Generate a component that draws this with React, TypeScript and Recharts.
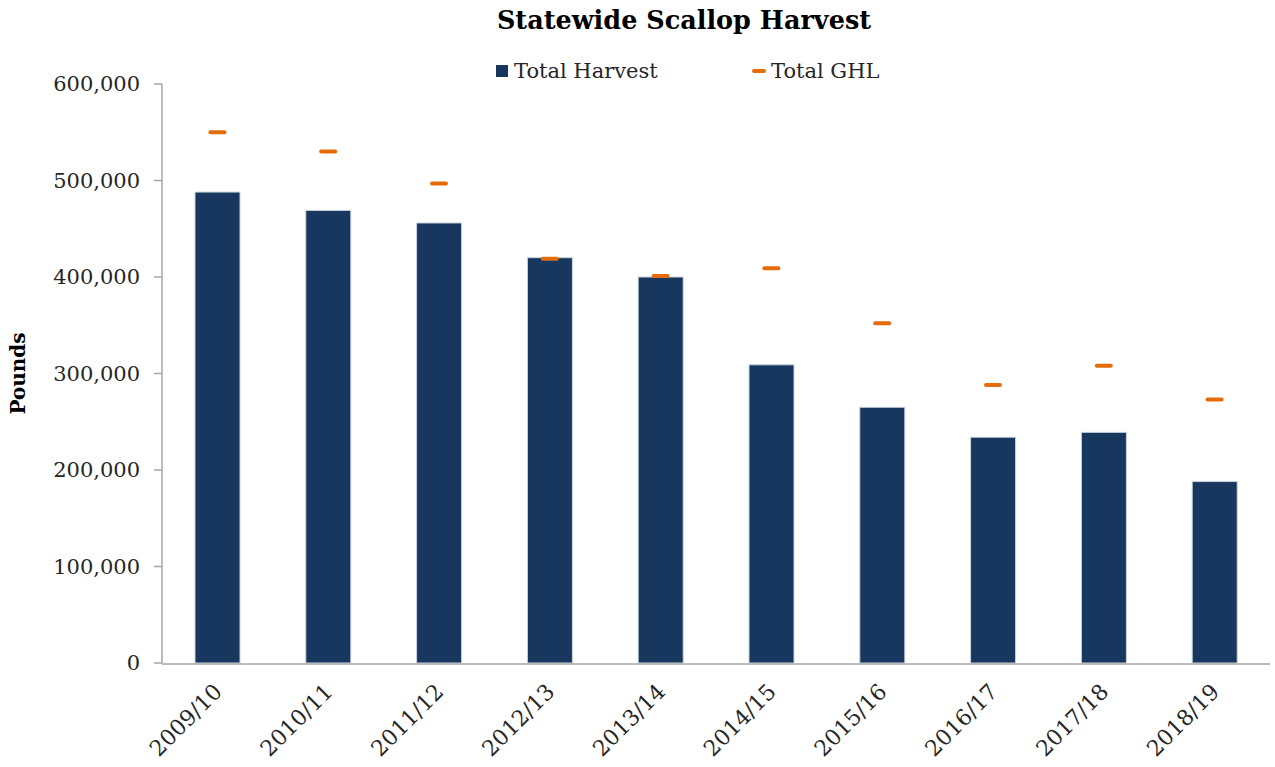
import { BarChart, Bar, Line, XAxis, YAxis } from 'recharts';

const seasons = ['2009/10', '2010/11', '2011/12', '2012/13', '2013/14', '2014/15', '2015/16', '2016/17', '2017/18', '2018/19'];
const totalHarvest = [488000, 469000, 456000, 420000, 400000, 309000, 265000, 234000, 239000, 188000];
const totalGhl = [550000, 530000, 497000, 419000, 401000, 409000, 352000, 288000, 308000, 273000];
const yTicks = [0, 100000, 200000, 300000, 400000, 500000, 600000];
const boundaryTicks = [0, 1, 2, 3, 4, 5, 6, 7, 8, 9, 10];

const FONT = '"DejaVu Serif", serif';
const NAVY = '#17375E';
const ORANGE = '#E46C0A';
const AXIS = '#a6a6a6';

const data = seasons.map((season, i) => ({
  season,
  harvest: totalHarvest[i],
  ghl: totalGhl[i],
}));

const formatNumber = (v: number): string => v.toLocaleString('en-US');

const GhlDash = (props: any) => {
  const { cx, cy } = props;
  if (cx == null || cy == null) return null;
  return <rect x={cx - 9} y={cy - 2} width={18} height={4} rx={2} fill={ORANGE} />;
};

const SeasonTick = (props: any) => {
  const { x, y, payload } = props;
  return (
    <text
      x={x + 6}
      y={y + 22}
      transform={`rotate(-45 ${x + 6} ${y + 22})`}
      textAnchor="end"
      fontFamily={FONT}
      fontSize={22}
      fill="#262626"
    >
      {payload.value}
    </text>
  );
};

export default function App() {
  return (
    <div style={{ position: 'absolute', left: 0, top: 0, width: 1275, height: 767, background: '#fff' }}>
      <div
        style={{
          position: 'absolute',
          left: 0,
          width: 1368,
          top: 5,
          textAlign: 'center',
          fontFamily: FONT,
          fontWeight: 'bold',
          fontSize: 25.5,
          color: '#000',
        }}
      >
        Statewide Scallop Harvest
      </div>
      <div
        style={{
          position: 'absolute',
          left: 496,
          top: 59,
          display: 'flex',
          alignItems: 'center',
          fontFamily: FONT,
          fontSize: 21,
          color: '#262626',
        }}
      >
        <span style={{ display: 'inline-block', width: 12, height: 12, background: NAVY, marginRight: 6 }} />
        <span style={{ width: 238 }}>Total Harvest</span>
        <span style={{ display: 'inline-block', width: 14, height: 4, borderRadius: 2, background: ORANGE, marginRight: 5 }} />
        <span>Total GHL</span>
      </div>
      <BarChart
        width={1275}
        height={767}
        data={data}
        margin={{ top: 84, right: 5, bottom: 0, left: 0 }}
        barCategoryGap={0}
      >
        <XAxis
          dataKey="season"
          height={1}
          axisLine={false}
          tickLine={false}
          interval={0}
          tick={<SeasonTick />}
        />
        <XAxis
          xAxisId="grid"
          type="number"
          domain={[0, 10]}
          ticks={boundaryTicks}
          height={103}
          tick={false}
          tickSize={7}
          stroke={AXIS}
          axisLine={{ stroke: AXIS, strokeWidth: 1.5 }}
          tickLine={{ stroke: AXIS, strokeWidth: 1.5 }}
        />
        <YAxis
          width={162}
          domain={[0, 600000]}
          ticks={yTicks}
          tickFormatter={formatNumber}
          tickSize={8}
          tickMargin={14}
          axisLine={{ stroke: AXIS, strokeWidth: 1.5 }}
          tickLine={{ stroke: AXIS, strokeWidth: 1.5 }}
          tick={{ fontFamily: FONT, fontSize: 21, fill: '#262626' }}
          label={{
            value: 'Pounds',
            angle: -90,
            position: 'insideLeft',
            offset: 18,
            style: { fontFamily: FONT, fontWeight: 'bold', fontSize: 20, fill: '#000', textAnchor: 'middle' },
          }}
        />
        <Bar dataKey="harvest" fill={NAVY} stroke="#c9d3df" strokeWidth={1} barSize={45} isAnimationActive={false} />
        <Line
          dataKey="ghl"
          stroke="none"
          dot={<GhlDash />}
          activeDot={false}
          isAnimationActive={false}
        />
      </BarChart>
    </div>
  );
}
